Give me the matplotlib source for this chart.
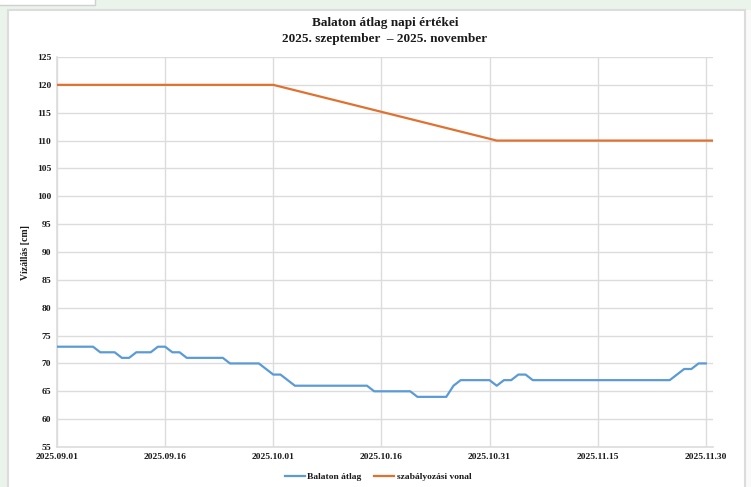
import matplotlib
matplotlib.use("Agg")
import matplotlib.pyplot as plt
import matplotlib.dates as mdates
from matplotlib.patches import Rectangle
import pandas as pd

# ---- data ----
start_date = "2025-09-01"
balaton_avg = [73, 73, 73, 73, 73, 73, 72, 72, 72, 71, 71, 72, 72, 72, 73, 73,
               72, 72, 71, 71, 71, 71, 71, 71, 70, 70, 70, 70, 70, 69, 68, 68,
               67, 66, 66, 66, 66, 66, 66, 66, 66, 66, 66, 66, 65, 65, 65, 65,
               65, 65, 64, 64, 64, 64, 64, 66, 67, 67, 67, 67, 67, 66, 67, 67,
               68, 68, 67, 67, 67, 67, 67, 67, 67, 67, 67, 67, 67, 67, 67, 67,
               67, 67, 67, 67, 67, 67, 68, 69, 69, 70, 70]
reg_dates = ["2025-09-01", "2025-10-01", "2025-11-01", "2025-12-01"]
reg_values = [120, 120, 110, 110]
tick_dates = ["2025-09-01", "2025-09-16", "2025-10-01", "2025-10-16",
              "2025-10-31", "2025-11-15", "2025-11-30"]
y_ticks = list(range(55, 126, 5))

title = "Balaton átlag napi értékei\n2025. szeptember  – 2025. november"
ylabel = "Vízállás [cm]"
series_names = ["Balaton átlag", "szabályozási vonal"]

blue = "#5B9BD5"
orange = "#E07130"
grid_c = "#DCDCDC"
text_c = "#1a1a1a"
font = ["Liberation Serif", "DejaVu Serif"]

plt.rcParams["font.family"] = font
plt.rcParams["font.weight"] = "bold"

W, H = 751, 487
fig = plt.figure(figsize=(W / 100, H / 100), dpi=100)
fig.patch.set_facecolor("#EAF4EA")

# white panel
fig.add_artist(Rectangle((745 / W, 0), 10 / W, (H - 10) / H, transform=fig.transFigure,
                         facecolor="#FAFAFA", edgecolor="none", zorder=-2))
fig.add_artist(Rectangle((8 / W, -0.01), (745 - 8) / W, (H - 10) / H + 0.01,
                         transform=fig.transFigure,
                         facecolor="white", edgecolor="#DCDCDC", linewidth=1.5, zorder=-1))
fig.add_artist(Rectangle((-2 / W, (H - 5) / H), 97 / W, 8 / H, transform=fig.transFigure,
                         facecolor="white", edgecolor="#D0D0D0", linewidth=1, zorder=-1))

ax = fig.add_axes([57 / W, 1 - 447 / H, (713 - 57) / W, (447 - 57) / H])
ax.set_facecolor("white")

dates = pd.date_range(start_date, periods=len(balaton_avg), freq="D")
ax.plot(dates, balaton_avg, color=blue, lw=1.6, label=series_names[0], zorder=3)
ax.plot(pd.to_datetime(reg_dates), reg_values, color=orange, lw=1.6,
        label=series_names[1], zorder=3)

ax.set_xlim(pd.Timestamp("2025-09-01"), pd.Timestamp("2025-12-01"))
ax.set_ylim(55, 125)
ax.set_yticks(y_ticks)
ax.set_xticks(pd.to_datetime(tick_dates))
ax.xaxis.set_major_formatter(mdates.DateFormatter("%Y.%m.%d"))

ax.grid(True, color=grid_c, lw=1)
ax.set_axisbelow(True)
for s in ["top", "right"]:
    ax.spines[s].set_visible(False)
for s in ["left", "bottom"]:
    ax.spines[s].set_color(grid_c)
    ax.spines[s].set_linewidth(1.2)
ax.tick_params(length=0, labelsize=6.8, colors=text_c, pad=4)
for lab in ax.get_xticklabels() + ax.get_yticklabels():
    lab.set_fontweight("bold")

ax.set_ylabel(ylabel, fontsize=7, fontweight="bold", color=text_c, labelpad=5)

fig.text(385 / W, 1 - 31 / H, title, ha="center", va="center", fontsize=9.5,
         fontweight="bold", color=text_c, linespacing=1.4)

leg = fig.legend(loc="center", bbox_to_anchor=(378 / W, 1 - 477 / H), ncol=2, frameon=False,
                 fontsize=6.8, handlelength=2.1, columnspacing=1.4, handletextpad=0.25)
for t in leg.get_texts():
    t.set_fontweight("bold")
    t.set_color(text_c)

fig.savefig("out.png", dpi=100)
